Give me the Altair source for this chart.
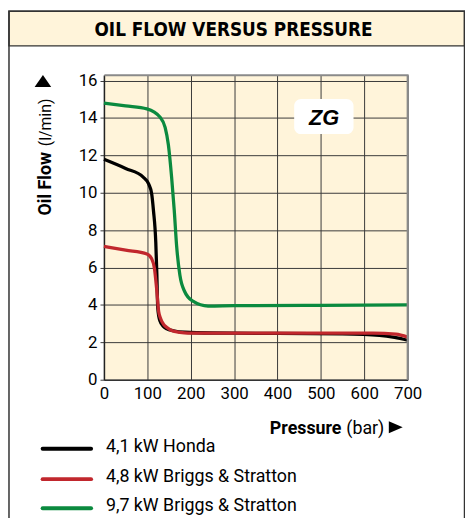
import altair as alt
import pandas as pd

# ---------------- data ----------------
series_names = ["4,1 kW Honda", "4,8 kW Briggs & Stratton", "9,7 kW Briggs & Stratton"]
series_colors = ["#000000", "#C1272D", "#0B8A3F"]

honda_pressure = [0, 50, 91, 103, 110, 114, 119.5, 122, 124, 129, 137, 145, 160, 186, 250, 400, 550, 635, 670, 700]
honda_flow = [11.79, 11.3, 10.83, 10.48, 9.95, 9.08, 7.34, 5.59, 3.85, 3.15, 2.85, 2.72, 2.62, 2.54, 2.5, 2.48, 2.45, 2.37, 2.26, 2.11]

bs48_pressure = [0, 50, 99, 110, 116.5, 122, 126, 131, 137, 146, 156, 175, 194, 300, 500, 620, 673, 700]
bs48_flow = [7.13, 6.93, 6.73, 6.47, 5.94, 4.72, 3.67, 3.25, 2.98, 2.78, 2.63, 2.53, 2.49, 2.49, 2.49, 2.49, 2.44, 2.28]

bs97_pressure = [0, 50, 99, 129, 141, 148.5, 156, 162, 167.5, 175, 186, 205, 240, 300, 500, 700]
bs97_flow = [14.8, 14.65, 14.49, 14.05, 13.5, 12.57, 10.83, 9.08, 7.16, 5.6, 4.72, 4.2, 3.94, 3.96, 3.98, 4.0]

x_ticks = [0, 100, 200, 300, 400, 500, 600, 700]
y_ticks = [0, 2, 4, 6, 8, 10, 12, 14, 16]

title_text = "OIL FLOW VERSUS PRESSURE"
badge_text = "ZG"

# ---------------- build ----------------
all_series = [
    (series_names[0], honda_pressure, honda_flow),
    (series_names[1], bs48_pressure, bs48_flow),
    (series_names[2], bs97_pressure, bs97_flow),
]

FONT = "Roboto, 'Liberation Sans', sans-serif"
TITLE_FONT = "'DejaVu Sans Condensed', Roboto, sans-serif"
CREAM = "#FFF4DA"
FRAME = "#333333"
W, H = 307, 308

x_scale = alt.Scale(domain=[0, 700], nice=False)
y_scale = alt.Scale(domain=[0, 16.3], nice=False)
color_scale = alt.Scale(domain=series_names, range=series_colors)

x_axis = alt.Axis(values=x_ticks, title=None, grid=True, gridColor="#3a3a3a", gridWidth=1,
                  ticks=False, domainColor="#333333", domainWidth=1.5,
                  labelFont=FONT, labelFontSize=17, labelColor="#000000", labelPadding=6,
                  labelFlush=False, labelOverlap=False)
y_axis = alt.Axis(values=y_ticks, title=None, grid=True, gridColor="#3a3a3a", gridWidth=1,
                  ticks=True, tickSize=4, tickColor="#3a3a3a", domainColor="#222222", domainWidth=1.5,
                  labelFont=FONT, labelFontSize=17, labelColor="#000000", labelPadding=3,
                  labelOverlap=False)

layers = []
for i, (name, xs, ys) in enumerate(all_series):
    df = pd.DataFrame({"pressure": xs, "flow": ys, "series": [name] * len(xs)})
    layers.append(alt.Chart(df).mark_line(strokeWidth=3.3, interpolate="monotone").encode(
        x=alt.X("pressure:Q", scale=x_scale, axis=x_axis),
        y=alt.Y("flow:Q", scale=y_scale, axis=y_axis),
        color=alt.Color("series:N", scale=color_scale, legend=None),
    ))

one = pd.DataFrame({"k": [0]})

def txt(text, x, y, size, weight="normal", align="left", angle=0, font=FONT, style="normal", baseline="alphabetic"):
    return alt.Chart(one).mark_text(text=text, font=font, fontSize=size, fontWeight=weight,
                                    fontStyle=style, align=align, baseline=baseline, angle=angle,
                                    color="#000000").encode(x=alt.value(x), y=alt.value(y))

back = []
# outer frame and title band
back.append(alt.Chart(one).mark_rect(fill=CREAM, stroke=FRAME, strokeWidth=1.5).encode(
    x=alt.value(-96), x2=alt.value(364.5), y=alt.value(-64.5), y2=alt.value(-29.5)))
back.append(alt.Chart(one).mark_rect(fillOpacity=0, stroke=FRAME, strokeWidth=1.5).encode(
    x=alt.value(-96), x2=alt.value(364.5), y=alt.value(-64.5), y2=alt.value(470)))

front = []
# plot top and right border (gray)
front.append(alt.Chart(one).mark_rule(color="#8a8a8a", strokeWidth=2).encode(
    x=alt.value(0.5), x2=alt.value(W + 1), y=alt.value(0.3)))
front.append(alt.Chart(one).mark_rule(color="#8a8a8a", strokeWidth=2).encode(
    x=alt.value(W), y=alt.value(0.3), y2=alt.value(H)))
front.append(txt(title_text, 131, -39.7, 19, weight="bold", align="center", font=TITLE_FONT))
# ZG badge
front.append(alt.Chart(one).mark_rect(fill="#FFFFFF", cornerRadius=7).encode(
    x=alt.value(192.3), x2=alt.value(252.3), y=alt.value(24.3), y2=alt.value(59.7)))
front.append(txt(badge_text, 222.5, 50.3, 22, weight="bold", align="center", font="'Liberation Sans', Arial, sans-serif", style="italic"))
# y axis title
front.append(txt("Oil Flow", -53.5, 142, 18, weight="bold", angle=270))
front.append(txt("(l/min)", -53.5, 72, 16, angle=270))
front.append(alt.Chart(one).mark_point(shape="M-1,0.72L1,0.72L0,-0.72Z", filled=True, size=279,
                                       color="#000000", opacity=1, strokeWidth=0).encode(
    x=alt.value(-61.7), y=alt.value(6)))
# x axis title
front.append(txt("Pressure", 167.7, 362.5, 18, weight="bold"))
front.append(txt("(bar)", 245, 362.5, 18))
front.append(alt.Chart(one).mark_point(shape="M-1,-0.86L1,0L-1,0.86Z", filled=True, size=196,
                                       color="#000000", opacity=1, strokeWidth=0).encode(
    x=alt.value(295), y=alt.value(356)))
# legend
legend_y = [377.7, 408.5, 438.0]
for name, col, ly in zip(series_names, series_colors, legend_y):
    front.append(alt.Chart(one).mark_rule(color=col, strokeWidth=4, strokeCap="round").encode(
        x=alt.value(-62), x2=alt.value(-13), y=alt.value(ly)))
    front.append(txt(name, 2, ly + 3, 18))

chart = alt.layer(*layers, *back, *front).properties(
    width=W, height=H,
    padding={"left": 97, "top": 65, "right": 58, "bottom": 137},
    autosize=alt.AutoSizeParams(type="none"),
    background="#FFFFFF",
).configure_view(fill=CREAM, stroke=None)

chart.save("out.html", embed_options={"renderer": "svg", "actions": False})
